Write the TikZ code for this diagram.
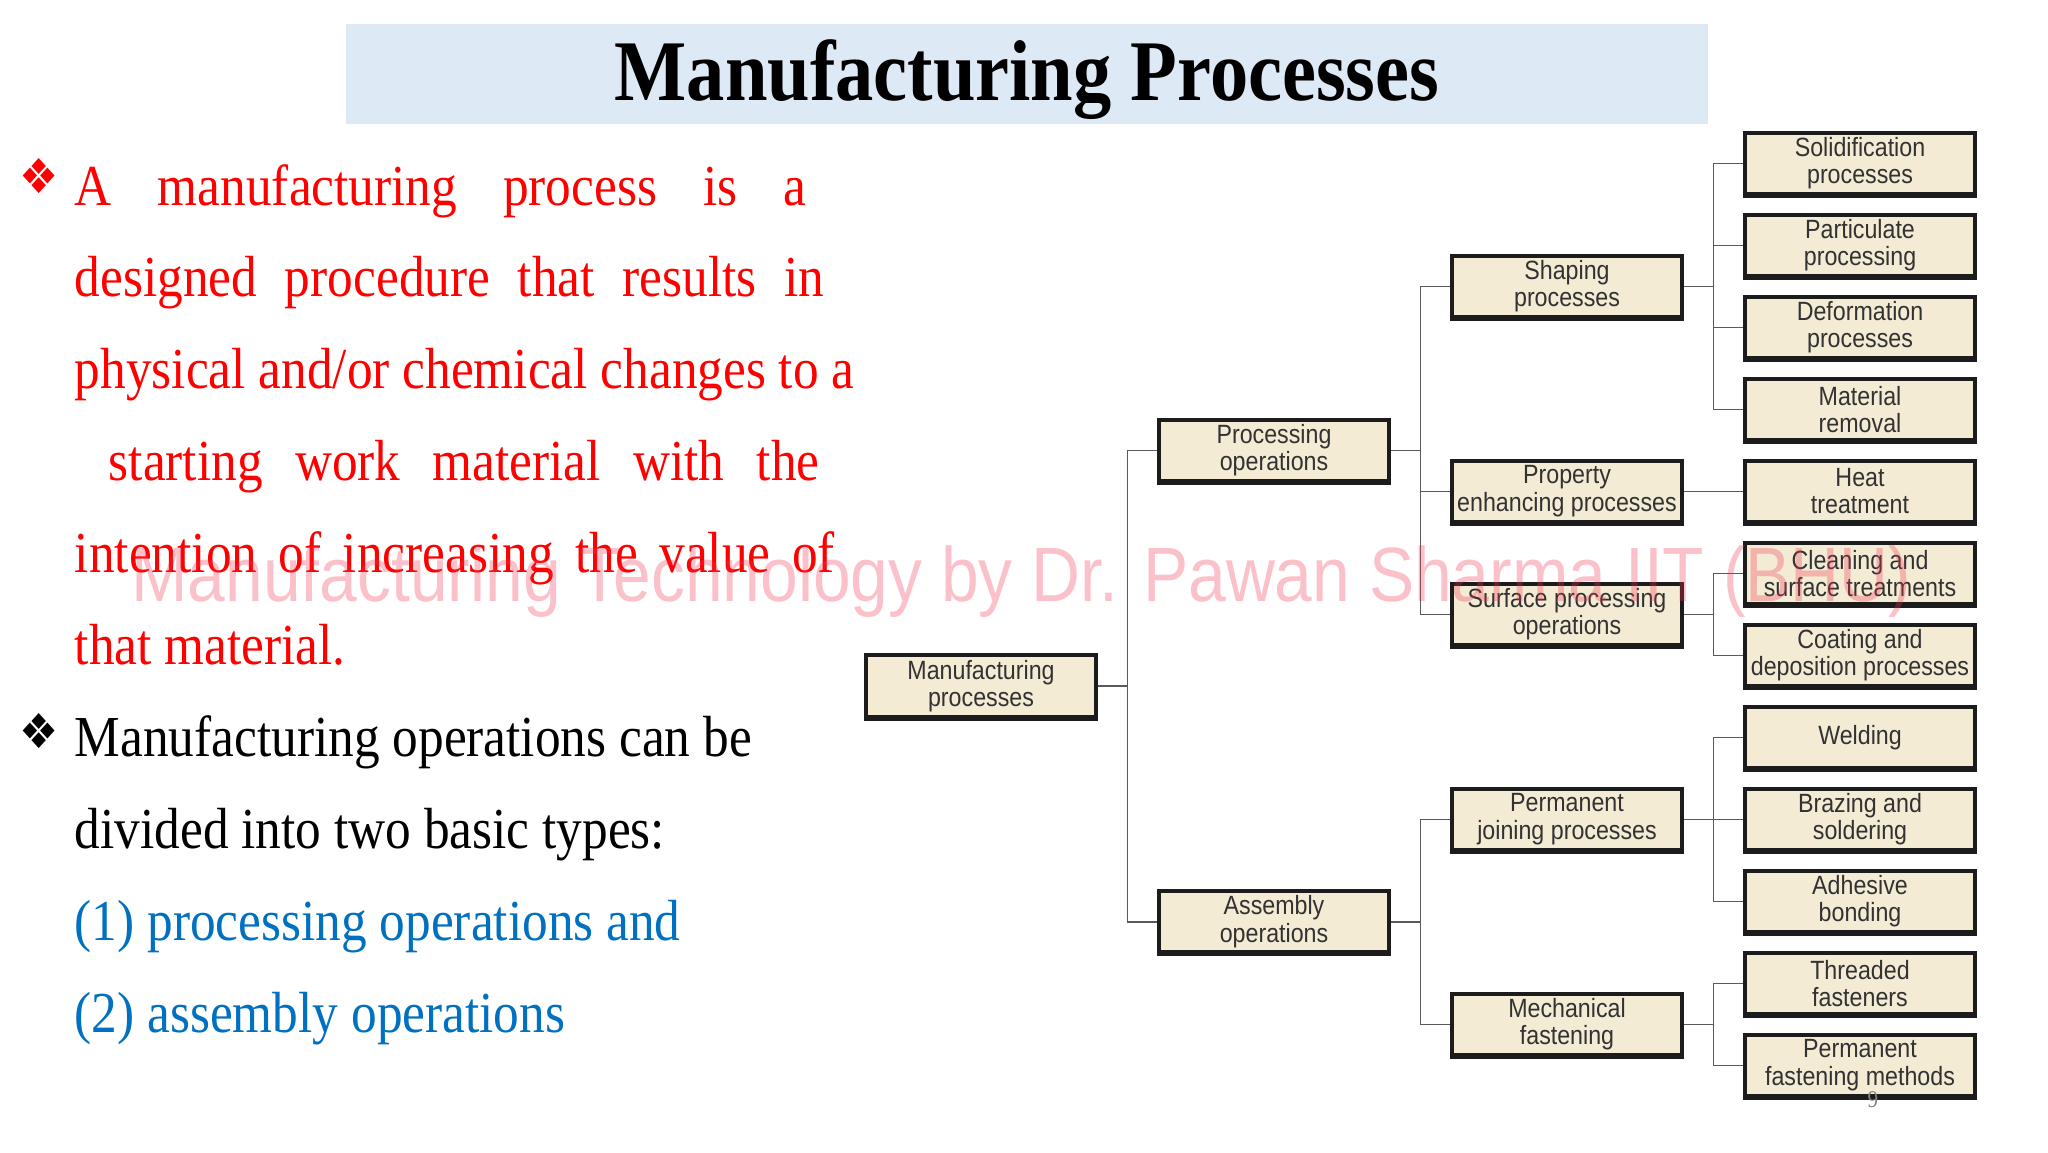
\documentclass[tikz,border=0pt]{standalone}
\usepackage{fontspec}
\usepackage{graphicx}
\usetikzlibrary{positioning,calc}
\setmainfont{Liberation Serif}[FakeStretch=0.885]
\newfontfamily\boxfont{Liberation Sans}[FakeStretch=0.88]
\newfontfamily\symfont{DejaVu Sans}
\definecolor{TitleBand}{RGB}{222,233,246}
\definecolor{BoxFill}{RGB}{243,235,212}
\definecolor{BoxEdge}{RGB}{28,28,28}
\definecolor{BoxText}{RGB}{50,50,50}
\definecolor{LinkGray}{RGB}{90,90,90}
\definecolor{SlideRed}{RGB}{255,0,0}
\definecolor{SlideBlue}{RGB}{0,112,192}
\definecolor{MarkPink}{RGB}{240,50,80}
\tikzset{
  procbox/.style={draw=BoxEdge,line width=2pt,fill=BoxFill,
    preaction={draw=BoxEdge,line width=2pt,transform canvas={yshift=-1pt}},
    minimum width=115pt,minimum height=30.6pt,inner xsep=2pt,inner ysep=1pt,
    align=center,text=BoxText,font=\boxfont\fontsize{13.2}{13.7}\selectfont},
  link/.style={draw=LinkGray,line width=0.8pt},
  bodyline/.style={anchor=base west,inner sep=0pt,font=\fontsize{29}{34}\selectfont},
  bulletmark/.style={inner sep=0pt,font=\symfont},
  titleband/.style={fill=TitleBand,minimum width=681pt,minimum height=50.3pt,inner sep=0pt}
}

\begin{document}
\begin{tikzpicture}[x=0.5pt,y=-0.5pt,node distance=8.4pt and 29.5pt]
  \useasboundingbox (0,0) rectangle (2048,1152);

  % title
  \node[titleband] (band) at (1027,73.8) {};
  \node[anchor=base,inner sep=0pt,font=\bfseries\fontsize{43.2}{48}\selectfont] (title) at (1027,100.6) {Manufacturing Processes};

  % left text
  \node[bulletmark,text=SlideRed] (bullet1) at (39,176) {\resizebox{19.6pt}{17.5pt}{❖}};
  \node[bodyline,text=SlideRed] (line1) at (74.4,205) {\makebox[365.7pt][s]{A manufacturing process is a}};
  \node[bodyline,text=SlideRed] (line2) at (74.4,296.9) {\makebox[374.8pt][s]{designed procedure that results in}};
  \node[bodyline,text=SlideRed] (line3) at (74.4,388.8) {physical and/or chemical changes to a};
  \node[bodyline,text=SlideRed] (line4) at (108.4,480.7) {\makebox[355.3pt][s]{starting work material with the}};
  \node[bodyline,text=SlideRed] (line5) at (74.4,572.6) {\makebox[380pt][s]{intention of increasing the value of}};
  \node[bodyline,text=SlideRed] (line6) at (74.4,664.5) {that material.};
  \node[bulletmark] (bullet2) at (39,731) {\resizebox{19.6pt}{17.5pt}{❖}};
  \node[bodyline] (line7) at (74.4,756.4) {Manufacturing operations can be};
  \node[bodyline] (line8) at (74.4,848.3) {divided into two basic types:};
  \node[bodyline,text=SlideBlue] (line9) at (74.4,940.2) {(1) processing operations and};
  \node[bodyline,text=SlideBlue] (line10) at (74.4,1032.1) {(2) assembly operations};

  % leaf column
  \node[procbox] (solid) at (1860,163.3) {Solidification\\processes};
  \node[procbox,below=of solid] (partic) {Particulate\\processing};
  \node[procbox,below=of partic] (deform) {Deformation\\processes};
  \node[procbox,below=of deform] (matrem) {Material\\removal};
  \node[procbox,below=of matrem] (heat) {Heat\\treatment};
  \node[procbox,below=of heat] (clean) {Cleaning and\\surface treatments};
  \node[procbox,below=of clean] (coat) {Coating and\\deposition processes};
  \node[procbox,below=of coat] (weld) {Welding};
  \node[procbox,below=of weld] (braze) {Brazing and\\soldering};
  \node[procbox,below=of braze] (adhes) {Adhesive\\bonding};
  \node[procbox,below=of adhes] (thread) {Threaded\\fasteners};
  \node[procbox,below=of thread] (permfast) {Permanent\\fastening methods};

  % third column
  \coordinate (shapemid) at ($(solid.west)!0.5!(matrem.west)$);
  \node[procbox,left=of shapemid] (shaping) {Shaping\\processes};
  \node[procbox,left=of heat] (property) {Property\\enhancing processes};
  \coordinate (surfmid) at ($(clean.west)!0.5!(coat.west)$);
  \node[procbox,left=of surfmid] (surface) {Surface processing\\operations};
  \node[procbox,left=of braze] (joining) {Permanent\\joining processes};
  \coordinate (mechmid) at ($(thread.west)!0.5!(permfast.west)$);
  \node[procbox,left=of mechmid] (mechfast) {Mechanical\\fastening};

  % second column
  \coordinate (procmid) at ($(shaping.west)!0.5!(surface.west)$);
  \node[procbox,left=of procmid] (processing) {Processing\\operations};
  \coordinate (assymid) at ($(joining.west)!0.5!(mechfast.west)$);
  \node[procbox,left=of assymid] (assembly) {Assembly\\operations};

  % root
  \coordinate (manumid) at ($(processing.west)!0.5!(assembly.west)$);
  \node[procbox,left=of manumid] (manuf) {Manufacturing\\processes};

  % connectors
  \foreach \p/\c in {manuf/processing,manuf/assembly,
      processing/shaping,processing/property,processing/surface,
      assembly/joining,assembly/mechfast,
      shaping/solid,shaping/partic,shaping/deform,shaping/matrem,
      property/heat,surface/clean,surface/coat,
      joining/weld,joining/braze,joining/adhes,
      mechfast/thread,mechfast/permfast}
    \draw[link] (\p.east) -- ++(14.75pt,0pt) |- (\c.west);

  \node[inner sep=0pt,text=gray,font=\fontsize{12}{13}\selectfont] (pagenum) at (1873,1100) {9};

  % watermark
  \node[anchor=base west,inner sep=0pt,text=MarkPink,opacity=0.3,text opacity=0.3,
    font=\boxfont\fontsize{38.5}{40}\selectfont] (watermark) at (131,601) {Manufacturing Technology by Dr. Pawan Sharma IIT (BHU)};
\end{tikzpicture}
\end{document}
